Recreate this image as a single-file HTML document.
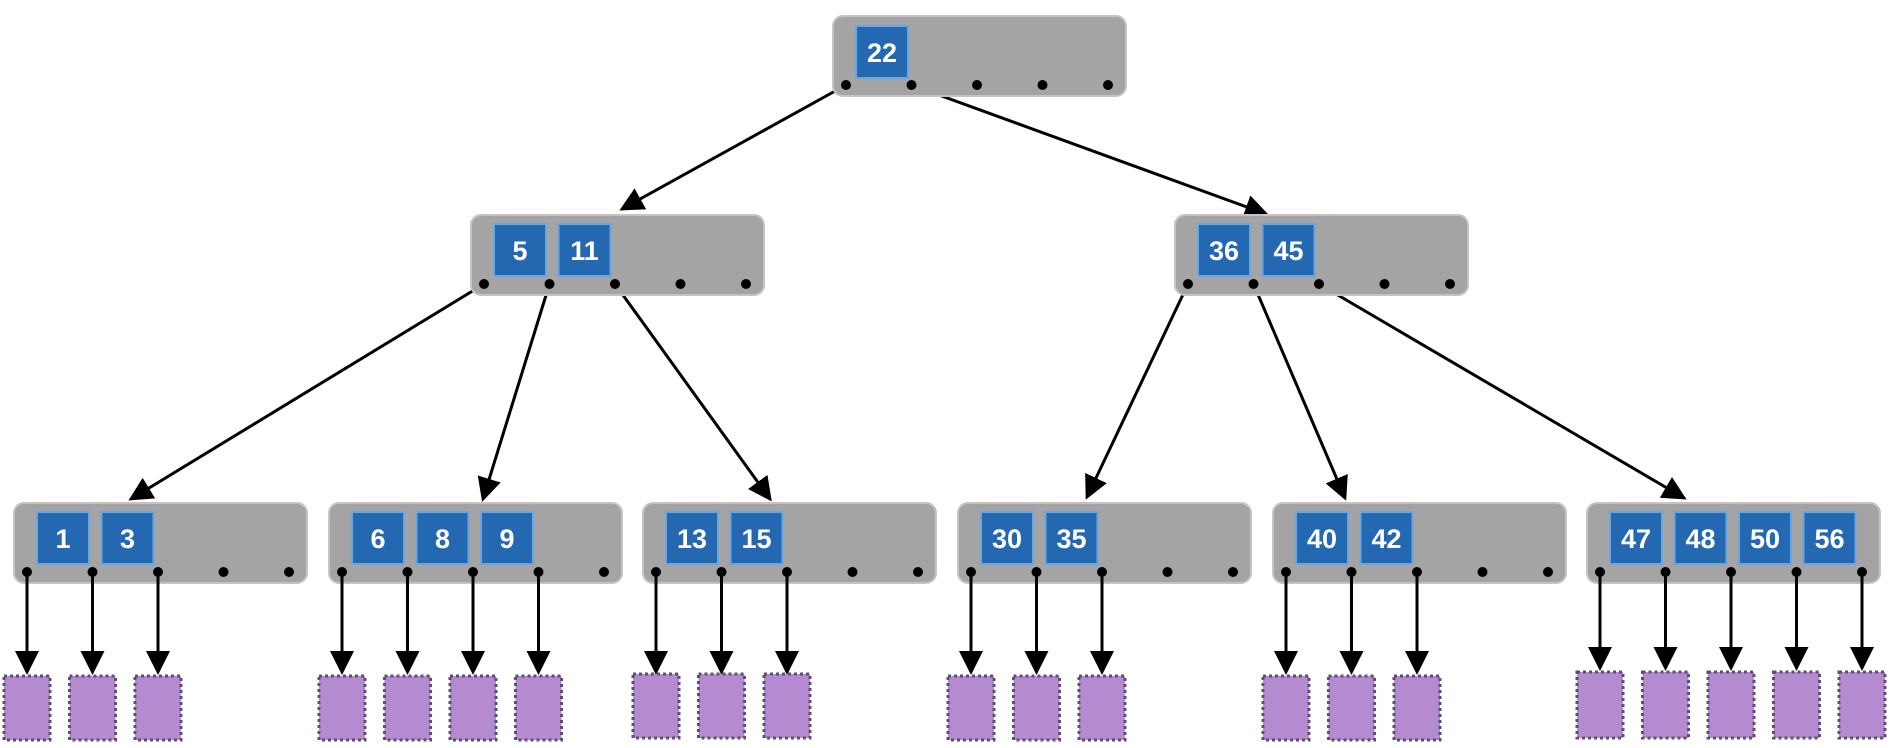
<!DOCTYPE html>
<html><head><meta charset="utf-8"><style>
html,body{margin:0;padding:0;background:#fff;}
svg{display:block;}
.box{fill:#a4a4a4;stroke:#c4c4c4;stroke-width:2;}
.key{fill:#2468b2;stroke:#6aa6e0;stroke-width:2;}
.kt{fill:#fff;font-family:"Liberation Sans",sans-serif;font-weight:bold;font-size:27px;text-anchor:middle;}
.dot{fill:#000;}
.e{stroke:#000;stroke-width:3;fill:none;marker-end:url(#ah);}
.leaf{fill:#b48ad0;stroke:#5e4f70;stroke-width:3;stroke-dasharray:3 3;}
</style></head><body>
<svg width="1904" height="748" viewBox="0 0 1904 748" xmlns="http://www.w3.org/2000/svg">
<defs>
<marker id="ah" markerWidth="8" markerHeight="8" refX="7" refY="4" orient="auto" markerUnits="strokeWidth">
<path d="M0,0 L8,4 L0,8 z" fill="#000"/>
</marker>
</defs>

<!-- edges -->
<line class="e" x1="846" y1="85" x2="622" y2="209"/>
<line class="e" x1="911.5" y1="85" x2="1266" y2="214"/>
<line class="e" x1="484" y1="284" x2="131" y2="499"/>
<line class="e" x1="549.5" y1="284" x2="483" y2="499"/>
<line class="e" x1="615" y1="284" x2="770" y2="499"/>
<line class="e" x1="1188" y1="284" x2="1087" y2="497"/>
<line class="e" x1="1253.5" y1="284" x2="1345" y2="498"/>
<line class="e" x1="1319" y1="284" x2="1684" y2="498"/>

<!-- root -->
<rect class="box" x="833" y="16" width="293" height="80" rx="10"/>
<rect class="key" x="856" y="26" width="52" height="52"/><text class="kt" x="882" y="62">22</text>
<circle class="dot" cx="846" cy="85" r="5"/><circle class="dot" cx="911.5" cy="85" r="5"/><circle class="dot" cx="977" cy="85" r="5"/><circle class="dot" cx="1042.5" cy="85" r="5"/><circle class="dot" cx="1108" cy="85" r="5"/>

<!-- level 2 left -->
<rect class="box" x="471" y="215" width="293" height="80" rx="10"/>
<rect class="key" x="494" y="224" width="52" height="52"/><text class="kt" x="520" y="260">5</text>
<rect class="key" x="558.5" y="224" width="52" height="52"/><text class="kt" x="584.5" y="260">11</text>
<circle class="dot" cx="484" cy="284" r="5"/><circle class="dot" cx="549.5" cy="284" r="5"/><circle class="dot" cx="615" cy="284" r="5"/><circle class="dot" cx="680.5" cy="284" r="5"/><circle class="dot" cx="746" cy="284" r="5"/>

<!-- level 2 right -->
<rect class="box" x="1175" y="215" width="293" height="80" rx="10"/>
<rect class="key" x="1198" y="224" width="52" height="52"/><text class="kt" x="1224" y="260">36</text>
<rect class="key" x="1262.5" y="224" width="52" height="52"/><text class="kt" x="1288.5" y="260">45</text>
<circle class="dot" cx="1188" cy="284" r="5"/><circle class="dot" cx="1253.5" cy="284" r="5"/><circle class="dot" cx="1319" cy="284" r="5"/><circle class="dot" cx="1384.5" cy="284" r="5"/><circle class="dot" cx="1450" cy="284" r="5"/>

<!-- level 3 boxes -->
<rect class="box" x="14" y="503" width="293" height="80" rx="10"/>
<rect class="key" x="37" y="512" width="52" height="52"/><text class="kt" x="63" y="548">1</text>
<rect class="key" x="101.5" y="512" width="52" height="52"/><text class="kt" x="127.5" y="548">3</text>

<rect class="box" x="329" y="503" width="293" height="80" rx="10"/>
<rect class="key" x="352" y="512" width="52" height="52"/><text class="kt" x="378" y="548">6</text>
<rect class="key" x="416.5" y="512" width="52" height="52"/><text class="kt" x="442.5" y="548">8</text>
<rect class="key" x="481" y="512" width="52" height="52"/><text class="kt" x="507" y="548">9</text>

<rect class="box" x="643" y="503" width="293" height="80" rx="10"/>
<rect class="key" x="666" y="512" width="52" height="52"/><text class="kt" x="692" y="548">13</text>
<rect class="key" x="730.5" y="512" width="52" height="52"/><text class="kt" x="756.5" y="548">15</text>

<rect class="box" x="958" y="503" width="293" height="80" rx="10"/>
<rect class="key" x="981" y="512" width="52" height="52"/><text class="kt" x="1007" y="548">30</text>
<rect class="key" x="1045.5" y="512" width="52" height="52"/><text class="kt" x="1071.5" y="548">35</text>

<rect class="box" x="1273" y="503" width="293" height="80" rx="10"/>
<rect class="key" x="1296" y="512" width="52" height="52"/><text class="kt" x="1322" y="548">40</text>
<rect class="key" x="1360.5" y="512" width="52" height="52"/><text class="kt" x="1386.5" y="548">42</text>

<rect class="box" x="1587" y="503" width="293" height="80" rx="10"/>
<rect class="key" x="1610" y="512" width="52" height="52"/><text class="kt" x="1636" y="548">47</text>
<rect class="key" x="1674.5" y="512" width="52" height="52"/><text class="kt" x="1700.5" y="548">48</text>
<rect class="key" x="1739" y="512" width="52" height="52"/><text class="kt" x="1765" y="548">50</text>
<rect class="key" x="1803.5" y="512" width="52" height="52"/><text class="kt" x="1829.5" y="548">56</text>

<!-- level 3 dots -->
<g class="dot">
<circle cx="27" cy="572" r="5"/><circle cx="92.5" cy="572" r="5"/><circle cx="158" cy="572" r="5"/><circle cx="223.5" cy="572" r="5"/><circle cx="289" cy="572" r="5"/>
<circle cx="342" cy="572" r="5"/><circle cx="407.5" cy="572" r="5"/><circle cx="473" cy="572" r="5"/><circle cx="538.5" cy="572" r="5"/><circle cx="604" cy="572" r="5"/>
<circle cx="656" cy="572" r="5"/><circle cx="721.5" cy="572" r="5"/><circle cx="787" cy="572" r="5"/><circle cx="852.5" cy="572" r="5"/><circle cx="918" cy="572" r="5"/>
<circle cx="971" cy="572" r="5"/><circle cx="1036.5" cy="572" r="5"/><circle cx="1102" cy="572" r="5"/><circle cx="1167.5" cy="572" r="5"/><circle cx="1233" cy="572" r="5"/>
<circle cx="1286" cy="572" r="5"/><circle cx="1351.5" cy="572" r="5"/><circle cx="1417" cy="572" r="5"/><circle cx="1482.5" cy="572" r="5"/><circle cx="1548" cy="572" r="5"/>
<circle cx="1600" cy="572" r="5"/><circle cx="1665.5" cy="572" r="5"/><circle cx="1731" cy="572" r="5"/><circle cx="1796.5" cy="572" r="5"/><circle cx="1862" cy="572" r="5"/>
</g>

<!-- leaf arrows -->
<line class="e" x1="27" y1="572" x2="27" y2="672"/><line class="e" x1="92.5" y1="572" x2="92.5" y2="672"/><line class="e" x1="158" y1="572" x2="158" y2="672"/>
<line class="e" x1="342" y1="572" x2="342" y2="672"/><line class="e" x1="407.5" y1="572" x2="407.5" y2="672"/><line class="e" x1="473" y1="572" x2="473" y2="672"/><line class="e" x1="538.5" y1="572" x2="538.5" y2="672"/>
<line class="e" x1="656" y1="572" x2="656" y2="672"/><line class="e" x1="721.5" y1="572" x2="721.5" y2="672"/><line class="e" x1="787" y1="572" x2="787" y2="672"/>
<line class="e" x1="971" y1="572" x2="971" y2="672"/><line class="e" x1="1036.5" y1="572" x2="1036.5" y2="672"/><line class="e" x1="1102" y1="572" x2="1102" y2="672"/>
<line class="e" x1="1286" y1="572" x2="1286" y2="672"/><line class="e" x1="1351.5" y1="572" x2="1351.5" y2="672"/><line class="e" x1="1417" y1="572" x2="1417" y2="672"/>
<line class="e" x1="1600" y1="572" x2="1600" y2="668"/><line class="e" x1="1665.5" y1="572" x2="1665.5" y2="668"/><line class="e" x1="1731" y1="572" x2="1731" y2="668"/><line class="e" x1="1796.5" y1="572" x2="1796.5" y2="668"/><line class="e" x1="1862" y1="572" x2="1862" y2="668"/>

<!-- leaves -->
<rect class="leaf" x="4" y="676" width="46" height="64"/><rect class="leaf" x="69.5" y="676" width="46" height="64"/><rect class="leaf" x="135" y="676" width="46" height="64"/>
<rect class="leaf" x="319" y="676" width="46" height="64"/><rect class="leaf" x="384.5" y="676" width="46" height="64"/><rect class="leaf" x="450" y="676" width="46" height="64"/><rect class="leaf" x="515.5" y="676" width="46" height="64"/>
<rect class="leaf" x="633" y="674" width="46" height="64"/><rect class="leaf" x="698.5" y="674" width="46" height="64"/><rect class="leaf" x="764" y="674" width="46" height="64"/>
<rect class="leaf" x="948" y="676" width="46" height="64"/><rect class="leaf" x="1013.5" y="676" width="46" height="64"/><rect class="leaf" x="1079" y="676" width="46" height="64"/>
<rect class="leaf" x="1263" y="676" width="46" height="64"/><rect class="leaf" x="1328.5" y="676" width="46" height="64"/><rect class="leaf" x="1394" y="676" width="46" height="64"/>
<rect class="leaf" x="1577" y="672" width="46" height="66"/><rect class="leaf" x="1642.5" y="672" width="46" height="66"/><rect class="leaf" x="1708" y="672" width="46" height="66"/><rect class="leaf" x="1773.5" y="672" width="46" height="66"/><rect class="leaf" x="1839" y="672" width="46" height="66"/>
</svg>
</body></html>
